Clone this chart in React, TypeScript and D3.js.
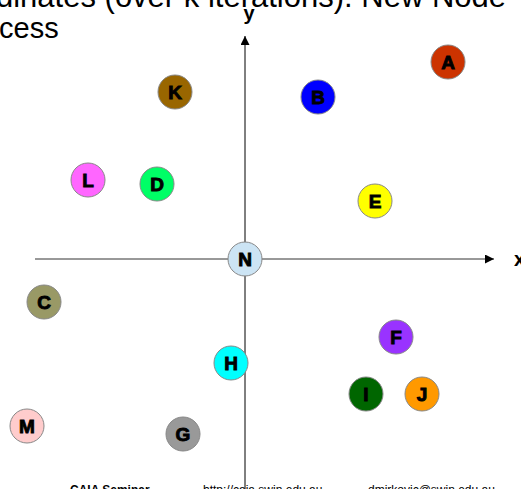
import React from "react";
import * as d3 from "d3";

const nodeNames = ["A", "B", "K", "L", "D", "E", "N", "C", "F", "H", "I", "J", "M", "G"];
const nodeX = [203, 73, -70, -157, -88, 130, 0, -201, 151, -14, 121, 177, -218, -62];
const nodeY = [197, 162, 167, 79, 75, 58, 0, -43, -78, -104, -135, -135, -167, -175];
const nodeColors = ["#cc3300", "#0000ff", "#996600", "#ff66ff", "#00ff66", "#ffff00", "#cce4f4", "#999966", "#9933ff", "#00ffff", "#006600", "#ff9900", "#ffcccc", "#999999"];

const titleLines = ["dinates (over k iterations): New Node", "cess"];
const footerTexts = ["CAIA Seminar", "http://caia.swin.edu.au", "dmirkovic@swin.edu.au"];

const W = 521, H = 489;

export default function App() {
  const x = d3.scaleLinear().domain([-245, 276]).range([0, W]);
  const y = d3.scaleLinear().domain([-230, 259]).range([H, 0]);
  const r = 17;
  const ox = x(0), oy = y(0);
  return (
    <svg width={W} height={H} style={{ position: "fixed", left: 0, top: 0, background: "#fff" }}
      fontFamily="'Liberation Sans', Arial, sans-serif">
      <defs>
        <marker id="arr" viewBox="0 0 10 10" refX="10" refY="5" markerWidth="12" markerHeight="9" markerUnits="userSpaceOnUse" orient="auto">
          <path d="M0,0 L10,5 L0,10 z" fill="#000" />
        </marker>
      </defs>
      <text x={506} y={7} fontSize={31} textAnchor="end">{titleLines[0]}</text>
      <text x={-1} y={38} fontSize={29}>{titleLines[1]}</text>
      <line x1={x(-210)} y1={oy} x2={x(249)} y2={oy} stroke="#333" strokeWidth={1} markerEnd="url(#arr)" />
      <line x1={ox} y1={H} x2={ox} y2={y(223)} stroke="#000" strokeWidth={1} markerEnd="url(#arr)" />
      <text x={ox + 4} y={20} fontSize={20} fontWeight="bold" textAnchor="middle">y</text>
      <text x={514} y={266} fontSize={20} fontWeight="bold">x</text>
      {nodeNames.map((n, i) => (
        <g key={n}>
          <circle cx={x(nodeX[i])} cy={y(nodeY[i])} r={r} fill={nodeColors[i]} stroke="#888" strokeWidth={1} />
          <text x={x(nodeX[i])} y={y(nodeY[i]) + 7} fontSize={19} fontWeight="bold" textAnchor="middle"
            fill="#000" stroke="#000" strokeWidth={0.9}>{n}</text>
        </g>
      ))}
      <text x={70} y={494} fontSize={12} fontWeight="bold">{footerTexts[0]}</text>
      <text x={203} y={494} fontSize={12}>{footerTexts[1]}</text>
      <text x={368} y={494} fontSize={12}>{footerTexts[2]}</text>
    </svg>
  );
}
